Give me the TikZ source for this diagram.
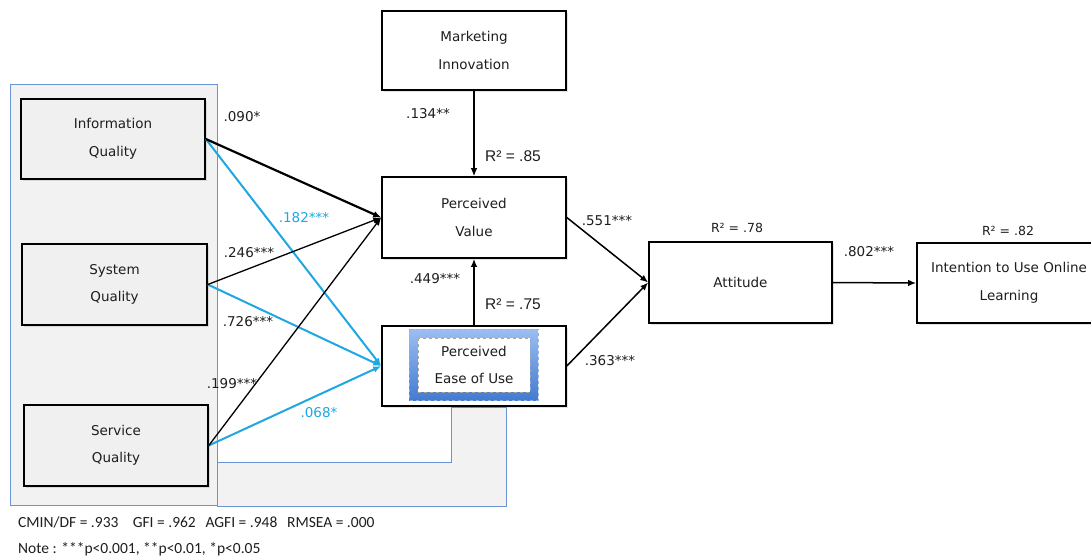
\documentclass[tikz,border=0pt]{standalone}
\usepackage{fontspec}
\setmainfont{DejaVu Sans}
\newfontfamily\rfont{Liberation Sans}
\newfontfamily\notefont{Carlito}
\usetikzlibrary{arrows.meta,shadows,calc}

\definecolor{panelfill}{HTML}{F2F2F2}
\definecolor{panelline}{HTML}{6A95D2}
\definecolor{boxfill}{HTML}{F0F0F0}
\definecolor{pathblue}{HTML}{1EA7E1}
\definecolor{peoutop}{HTML}{9CBEF2}
\definecolor{peoubot}{HTML}{437BD0}
\definecolor{peouedge}{HTML}{8DB2EC}
\definecolor{txt}{HTML}{1E1E1E}

\tikzset{
  construct/.style={draw=black, line width=1.6pt, fill=white, align=center,
    minimum width=184pt, minimum height=80pt, text=txt,
    font=\fontsize{13.5}{27.5}\selectfont,
    drop shadow={shadow xshift=1.6pt, shadow yshift=-1.6pt, opacity=0.22}},
  grayconstruct/.style={construct, fill=boxfill},
  panel/.style={draw=panelline, line width=0.9pt, fill=panelfill},
  tip/.style={-{Latex[length=8pt,width=6.5pt]}},
  blackpath/.style={tip, draw=black, line width=1.3pt},
  boldpath/.style={tip, draw=black, line width=2.2pt},
  bluepath/.style={tip, draw=pathblue, line width=2pt},
  coef/.style={font=\fontsize{13.5}{15}\selectfont, text=txt, inner sep=0pt},
  bluecoef/.style={coef, text=pathblue},
  rsqbig/.style={font=\rfont\fontsize{15.5}{17}\selectfont, text=txt, inner sep=0pt},
  rsqsmall/.style={font=\fontsize{12.5}{14}\selectfont, text=txt, inner sep=0pt},
  fitnote/.style={font=\notefont\fontsize{15.5}{17}\selectfont, text=txt, inner sep=0pt, anchor=west}
}

\begin{document}
\begin{tikzpicture}[x=1pt, y=-1pt]
\useasboundingbox (0,0) rectangle (1091,558);
\clip (0,0) rectangle (1091,558);

% shaded panels grouping the quality constructs
\draw[panel] (217,462) -- (451,462) -- (451,407) -- (506,407) -- (506,506) -- (217,506) -- cycle;
\draw[panel] (10,84) rectangle (217,505);

% constructs
\node[grayconstruct, minimum height=80pt] (iq)  at (113,139)   {Information\\Quality};
\node[grayconstruct, minimum width=185pt, minimum height=81pt] (sq)  at (114.5,284.5) {System\\Quality};
\node[grayconstruct, minimum height=81pt] (svq) at (116,445.5) {Service\\Quality};

\node[construct, minimum height=79pt] (mi)  at (474,50.5)  {Marketing\\Innovation};
\node[construct, minimum height=81pt] (pv)  at (474,217.5) {Perceived\\Value};
\node[construct] (peou) at (474,366) {};
\node[construct, minimum width=183pt, minimum height=81pt] (att) at (740.5,282.5) {Attitude};
\node[construct] (itu) at (1009,283) {Intention to Use Online\\Learning};

% highlighted inner frame of perceived ease of use
\shade[top color=peoutop, bottom color=peoubot]
  ($(peou.center)+(-65,-37)$) rectangle ($(peou.center)+(64,34)$);
\draw[peouedge, line width=0.8pt, dashed]
  ($(peou.center)+(-65,-37)$) rectangle ($(peou.center)+(64,34)$);
\draw[black!35, fill=white, line width=0.7pt, dashed]
  ($(peou.center)+(-56,-28)$) rectangle ($(peou.center)+(56,26)$);
\node[align=center, text=txt, font=\fontsize{13.5}{27.5}\selectfont] (peoulabel) at ($(peou.center)+(0,-1)$) {Perceived\\Ease of Use};

% paths
\draw[bluepath]  (iq.east)  -- (peou.west);
\draw[bluepath]  (sq.east)  -- (peou.west);
\draw[bluepath]  (svq.east) -- (peou.west);
\draw[boldpath]  (iq.east)  -- (pv.west);
\draw[blackpath] (sq.east)  -- (pv.west);
\draw[blackpath] (svq.east) -- (pv.west);
\draw[blackpath] (mi.south) -- (pv.north);
\draw[boldpath]  (peou.north) -- (pv.south);
\draw[blackpath, line width=1.5pt] (pv.east)   -- (att.west);
\draw[blackpath, line width=1.5pt] (peou.east) -- (att.west);
\draw[blackpath, line width=1.5pt] (att.east)  -- (itu.west);

% path coefficients
\node[coef] (c090) at (242,117) {.090*};
\node[bluecoef] (c182) at (304,218) {.182***};
\node[coef] (c246) at (249,253) {.246***};
\node[coef] (c726) at (248,322) {.726***};
\node[coef] (c199) at (232,384) {.199***};
\node[bluecoef] (c068) at (319,413) {.068*};
\node[coef] (c134) at (428,114) {.134**};
\node[coef] (c449) at (435,279) {.449***};
\node[coef] (c551) at (607,221) {.551***};
\node[coef] (c363) at (610,361) {.363***};
\node[coef] (c802) at (869,252) {.802***};

% explained variance
\node[rsqbig] (r85) at (513,156) {R² = .85};
\node[rsqbig] (r75) at (513,304) {R² = .75};
\node[rsqsmall] (r78) at (737,228) {R² = .78};
\node[rsqsmall] (r82) at (1008,231) {R² = .82};

% fit indices
\node[fitnote] (fit) at (18,522) {CMIN/DF = .933\hspace{0.7em} GFI = .962\hspace{0.4em} AGFI = .948\hspace{0.4em} RMSEA = .000};
\node[fitnote] (note) at (18,549) {Note : ***p<0.001, **p<0.01, *p<0.05};
\end{tikzpicture}
\end{document}
